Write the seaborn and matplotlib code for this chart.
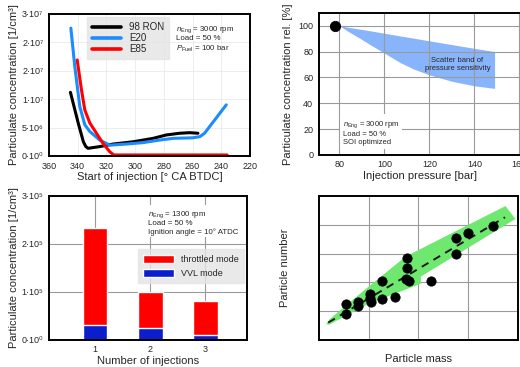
import matplotlib
matplotlib.use("Agg")
import matplotlib.pyplot as plt
from matplotlib.lines import Line2D
from matplotlib.patches import Patch, Polygon
import seaborn as sns
import pandas as pd

# ---------------- data ----------------
# Top-left: particulate concentration vs start of injection
ron_x = [345, 339.6, 336, 334.3, 332.7, 324.6, 315.3, 301.4, 287.5, 278.3, 269, 262, 256.3]
ron_y = [11.2e6, 5.8e6, 2.5e6, 1.65e6, 1.35e6, 1.65e6, 2.1e6, 2.5e6, 3.1e6, 3.7e6, 4.0e6, 4.1e6, 4.0e6]
e20_x = [344.7, 342, 338.5, 335, 331.5, 324.6, 317.6, 306, 294.5, 283, 273.7, 259.8, 255, 251.7, 236.6]
e20_y = [22.5e6, 15.8e6, 8.7e6, 5.5e6, 4.3e6, 2.8e6, 1.9e6, 2.1e6, 2.35e6, 2.8e6, 3.1e6, 3.2e6, 3.4e6, 4.0e6, 9.0e6]
e85_x = [340.3, 337.3, 335, 331.5, 326.9, 322.3, 317.7, 314.9, 300, 280, 260, 236]
e85_y = [16.9e6, 11.6e6, 8.1e6, 5.8e6, 4.0e6, 2.2e6, 0.76e6, 0.18e6, 0.18e6, 0.18e6, 0.18e6, 0.18e6]
tl_yticks = [0, 5e6, 1e7, 1.5e7, 2e7, 2.5e7]
tl_yticklabels = ["0·10⁰", "5·10⁶", "1·10⁷", "2·10⁷", "2·10⁷", "3·10⁷"]
tl_xticks = [360, 340, 320, 300, 280, 260, 240, 220]

# Top-right: relative concentration vs injection pressure
ref_x = [78]
ref_y = [100]
band_x = [80, 84, 89, 94, 100, 107, 113, 120, 130, 140, 149]
band_upper = [100, 98.8, 97.4, 96.0, 94.2, 92.1, 90.4, 88.3, 85.4, 82.5, 80.0]
band_lower = [100, 95.5, 90.4, 85.0, 78.8, 71.5, 66.5, 62.0, 57.0, 53.5, 51.5]

# Bottom-left: bars
n_inj = [1, 2, 3]
throttled = [2.34e5, 0.99e5, 0.82e5]
vvl = [0.30e5, 0.24e5, 0.10e5]
bl_yticks = [0, 1e5, 2e5, 3e5]
bl_yticklabels = ["0·10⁰", "1·10⁵", "2·10⁵", "3·10⁵"]

# Bottom-right: particle number vs mass
pm = [0.54, 0.54, 0.79, 0.79, 1.03, 1.03, 1.04, 1.28, 1.28, 1.53, 1.78, 1.78, 1.76, 1.82, 2.26, 2.75, 2.75, 3.00, 3.49]
pn = [1.25, 0.90, 1.31, 1.16, 1.60, 1.45, 1.33, 2.03, 1.41, 1.50, 2.84, 2.49, 2.11, 2.06, 2.06, 3.53, 2.99, 3.73, 3.96]
fit_x = [0.19, 3.74]
fit_y = [0.60, 4.26]
green_x = [0.15, 0.22, 1.0, 1.75, 3.75, 3.95, 2.05, 2.05, 1.0, 0.2]
green_y = [0.55, 0.72, 1.85, 2.9, 4.65, 4.2, 2.2, 1.95, 1.25, 0.52]

# ---------------- style ----------------
sns.set_theme(style="white")
plt.rcParams['font.family'] = ['Liberation Sans', 'DejaVu Sans']
plt.rcParams['mathtext.fontset'] = 'custom'
plt.rcParams['mathtext.rm'] = 'Liberation Sans'
plt.rcParams['mathtext.it'] = 'Liberation Sans:italic'
plt.rcParams['axes.edgecolor'] = 'black'
plt.rcParams['axes.linewidth'] = 1.4

fig = plt.figure(figsize=(5.2, 3.67), dpi=100)
ax1 = fig.add_axes([0.094, 0.575, 0.387, 0.387])
ax2 = fig.add_axes([0.613, 0.578, 0.390, 0.387])
ax3 = fig.add_axes([0.094, 0.074, 0.381, 0.392])
ax4 = fig.add_axes([0.613, 0.074, 0.383, 0.392])

tick_fs = 6.5
lab_fs = 8

GRID = "#9a9a9a"

# ---- top-left ----
df1 = pd.concat([
    pd.DataFrame({"x": ron_x, "y": ron_y, "fuel": "98 RON"}),
    pd.DataFrame({"x": e20_x, "y": e20_y, "fuel": "E20"}),
    pd.DataFrame({"x": e85_x, "y": e85_y, "fuel": "E85"}),
])
pal1 = {"98 RON": "black", "E20": "#1a8cff", "E85": "#ff0000"}
sns.lineplot(data=df1, x="x", y="y", hue="fuel", palette=pal1, lw=2.2, ax=ax1,
             legend=False, sort=False, estimator=None)
ax1.set_xlim(360, 220)
ax1.set_ylim(0, 2.5e7)
ax1.set_xticks(tl_xticks)
ax1.set_yticks(tl_yticks)
ax1.set_yticklabels(tl_yticklabels)
ax1.grid(True, color="#e6e6e6", lw=0.5)
ax1.set_axisbelow(True)
ax1.set_xlabel("Start of injection [° CA BTDC]", fontsize=lab_fs, labelpad=1)
ax1.set_ylabel("Particulate concentration [1/cm³]", fontsize=lab_fs, labelpad=2)
h1 = [Line2D([], [], color=pal1[k], lw=2.6) for k in pal1]
leg1 = ax1.legend(h1, list(pal1), loc="upper left", bbox_to_anchor=(0.19, 0.975),
                  fontsize=7, frameon=True, fancybox=False, handlelength=3.0,
                  handletextpad=0.8, labelspacing=0.1, borderpad=0.5, borderaxespad=0)
leg1.get_frame().set_facecolor("#e4e4e4")
leg1.get_frame().set_edgecolor("#e4e4e4")
ax1.text(0.63, 0.93, "$n_{\\rm Eng}$ = 3000 rpm\nLoad = 50 %\n$P_{\\rm Fuel}$ = 100 bar",
         transform=ax1.transAxes, fontsize=5.7, va="top", ha="left", linespacing=1.15)

# ---- top-right ----
ax2.fill_between(band_x, band_lower, band_upper, color="#88b4fb", lw=0, zorder=1)
sns.scatterplot(x=ref_x, y=ref_y, color="black", s=55, ax=ax2, zorder=4, edgecolor="black")
ax2.set_xlim(70.8, 161)
ax2.set_ylim(0, 110)
ax2.set_xticks([80, 100, 120, 140, 160])
ax2.set_yticks([0, 20, 40, 60, 80, 100])
ax2.grid(True, color=GRID, lw=0.8, zorder=2)
ax2.set_axisbelow(False)
for l in ax2.get_xgridlines() + ax2.get_ygridlines():
    l.set_zorder(2)
ax2.set_xlabel("Injection pressure [bar]", fontsize=lab_fs, labelpad=1)
ax2.set_ylabel("Particulate concentration rel. [%]", fontsize=lab_fs, labelpad=4)
ax2.text(132.5, 70, "Scatter band of\npressure sensitivity", fontsize=5.5, ha="center",
         va="center", zorder=5, linespacing=1.2)
ax2.text(81.5, 27.5, "$n_{\\rm Eng}$ = 3000 rpm\nLoad = 50 %\nSOI optimized", fontsize=5.5,
         ha="left", va="top", zorder=5, linespacing=1.2,
         bbox=dict(facecolor="white", edgecolor="none", pad=2))

# ---- bottom-left ----
sns.barplot(x=n_inj, y=throttled, color="#ff0000", native_scale=True, width=0.45,
            ax=ax3, saturation=1, zorder=3)
sns.barplot(x=n_inj, y=vvl, color="#0a1ecc", native_scale=True, width=0.45,
            ax=ax3, saturation=1, zorder=3)
ax3.set_xlim(0.16, 3.76)
ax3.set_ylim(0, 3e5)
ax3.set_xticks(n_inj)
ax3.set_xticklabels([str(v) for v in n_inj])
ax3.set_yticks(bl_yticks)
ax3.set_yticklabels(bl_yticklabels)
ax3.grid(True, color=GRID, lw=0.8, zorder=0)
ax3.set_axisbelow(True)
ax3.set_xlabel("Number of injections", fontsize=lab_fs, labelpad=1)
ax3.set_ylabel("Particulate concentration [1/cm³]", fontsize=lab_fs, labelpad=2)
ax3.text(0.5, 0.91, "$n_{\\rm Eng}$ = 1300 rpm\nLoad = 50 %\nIgnition angle = 10° ATDC",
         transform=ax3.transAxes, fontsize=5.7, ha="left", va="top", linespacing=1.15,
         zorder=5, bbox=dict(facecolor="white", edgecolor="none", pad=1))
h3 = [Patch(facecolor="#ff0000"), Patch(facecolor="#0a1ecc")]
leg3 = ax3.legend(h3, ["throttled mode", "VVL mode"], loc="upper right",
                  bbox_to_anchor=(0.985, 0.63), fontsize=6.5, frameon=True, fancybox=False,
                  handlelength=3.4, handleheight=1.1, handletextpad=0.8,
                  labelspacing=0.5, borderpad=0.6, borderaxespad=0)
leg3.get_frame().set_facecolor("#e4e4e4")
leg3.get_frame().set_edgecolor("#e4e4e4")
leg3.set_zorder(6)

# ---- bottom-right ----
ax4.add_patch(Polygon(list(zip(green_x, green_y)), closed=True, facecolor="#6ee86e",
                      edgecolor="none", zorder=1))
sns.lineplot(x=fit_x, y=fit_y, color="#1a1a1a", lw=1.4, ls=(0, (4, 3)), ax=ax4, zorder=3)
sns.scatterplot(x=pm, y=pn, color="black", s=45, edgecolor="black", ax=ax4, zorder=4)
ax4.set_xlim(0, 4)
ax4.set_ylim(0, 5)
ax4.set_xticks([1, 2, 3])
ax4.set_yticks([1, 2, 3, 4])
ax4.set_xticklabels([])
ax4.set_yticklabels([])
ax4.tick_params(length=0)
ax4.grid(True, color=GRID, lw=0.8)
for l in ax4.get_xgridlines() + ax4.get_ygridlines():
    l.set_zorder(2)
ax4.set_xlabel("Particle mass", fontsize=lab_fs, labelpad=7)
ax4.set_ylabel("Particle number", fontsize=lab_fs, labelpad=17)

for ax in (ax1, ax2, ax3):
    ax.tick_params(labelsize=tick_fs, length=2, width=0.6, pad=2)
for ax in (ax1, ax2, ax3, ax4):
    for s in ax.spines.values():
        s.set_color("black")
        s.set_linewidth(1.4)
        s.set_zorder(7)

fig.savefig("out.png", dpi=100)
